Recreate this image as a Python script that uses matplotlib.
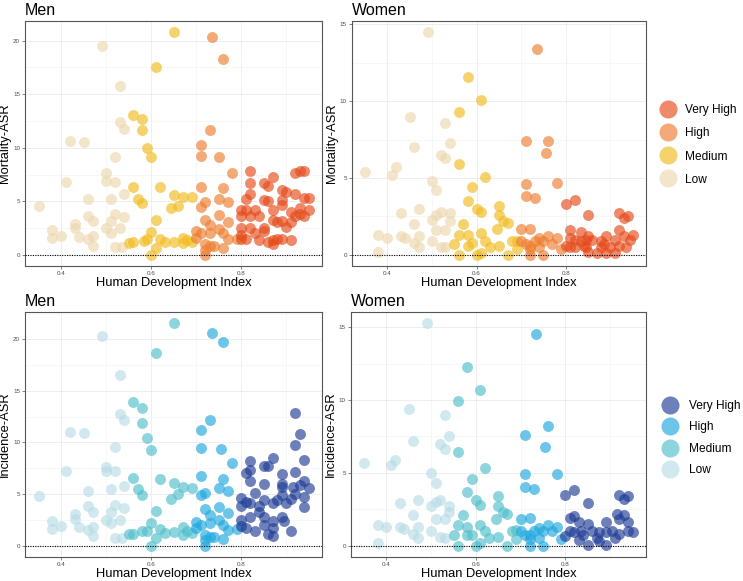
import matplotlib
matplotlib.use("Agg")
import matplotlib.pyplot as plt
from matplotlib.lines import Line2D
from matplotlib.ticker import MultipleLocator
import numpy as np

plt.rcParams['font.family'] = ['Liberation Sans', 'DejaVu Sans']

# HDI categories (cut points of the Human Development Index)
levels = ["Very High", "High", "Medium", "Low"]
cuts = [0.80, 0.70, 0.55]

# ---------------- Men, mortality ----------------
men_mort_hdi = [0.35, 0.38, 0.38, 0.40, 0.41, 0.42, 0.43, 0.43, 0.44, 0.45, 0.46, 0.46, 0.46, 0.47, 0.47, 0.47,
                0.49, 0.50, 0.50, 0.50, 0.51, 0.51, 0.51, 0.52, 0.52, 0.52, 0.52, 0.53, 0.53, 0.53, 0.535, 0.54,
                0.54, 0.54,
                0.55, 0.56, 0.56, 0.56, 0.57, 0.58, 0.58, 0.58, 0.585, 0.59, 0.59, 0.60, 0.60, 0.60, 0.61, 0.61,
                0.61, 0.62, 0.62, 0.63, 0.65, 0.65, 0.645, 0.66, 0.65, 0.67, 0.67, 0.67, 0.68, 0.69, 0.69,
                0.70, 0.71, 0.71, 0.71, 0.71, 0.71, 0.72, 0.72, 0.72, 0.72, 0.73, 0.735, 0.73, 0.73, 0.73, 0.74,
                0.75, 0.75, 0.75, 0.75, 0.76, 0.76, 0.76, 0.76, 0.77, 0.77, 0.77, 0.78, 0.79, 0.70, 0.72,
                0.82, 0.87, 0.92, 0.93, 0.94, 0.82, 0.85, 0.86, 0.89, 0.82, 0.81, 0.85, 0.89, 0.92, 0.94, 0.95,
                0.95, 0.81, 0.80, 0.83, 0.84, 0.80, 0.82, 0.87, 0.89, 0.89, 0.88, 0.91, 0.92, 0.93, 0.94, 0.91,
                0.90, 0.87, 0.85, 0.85, 0.82, 0.80, 0.80, 0.81, 0.83, 0.87, 0.87, 0.86, 0.88, 0.89, 0.91, 0.84,
                0.80, 0.90, 0.86, 0.93]
men_mort_asr = [4.6, 2.3, 1.6, 1.8, 6.8, 10.6, 2.9, 2.5, 1.7, 10.5, 5.2, 3.6, 1.5, 3.2, 1.8, 0.8,
                19.5, 7.6, 6.9, 2.5, 5.2, 3.2, 2.0, 9.1, 6.8, 3.8, 0.7, 15.8, 12.4, 2.5, 0.7, 11.8,
                5.7, 3.5,
                1.1, 13.1, 6.3, 1.2, 5.2, 12.7, 11.7, 4.8, 1.3, 10.0, 1.5, 9.1, 2.1, 0.0, 17.5, 3.3,
                0.6, 6.3, 1.5, 1.2, 20.8, 5.6, 4.4, 4.6, 1.2, 5.4, 1.6, 1.1, 1.4, 5.4, 1.2,
                2.2, 10.3, 9.2, 6.3, 4.5, 2.0, 4.9, 3.3, 1.0, 0.0, 11.7, 20.3, 2.8, 2.0, 0.8, 0.8,
                9.1, 5.2, 3.7, 2.4, 18.3, 6.2, 2.0, 0.6, 4.9, 3.1, 1.5, 7.6, 1.5, 1.6, 0.5,
                7.8, 7.3, 7.6, 7.8, 7.8, 6.7, 6.7, 6.4, 6.1, 5.7, 5.2, 5.1, 5.1, 5.7, 5.3, 5.3,
                4.2, 4.2, 4.2, 4.2, 3.6, 3.6, 3.6, 4.2, 4.7, 3.2, 3.1, 4.0, 3.6, 3.8, 3.6, 3.1,
                2.6, 3.3, 2.5, 2.2, 2.5, 2.5, 1.9, 1.5, 2.0, 1.4, 1.0, 1.2, 1.5, 1.5, 1.4, 1.4,
                1.5, 5.9, 5.0, 4.4]

# ---------------- Women, mortality ----------------
women_mort_hdi = [0.35, 0.38, 0.38, 0.40, 0.41, 0.42, 0.43, 0.43, 0.44, 0.45, 0.46, 0.46, 0.47, 0.47, 0.46, 0.47,
                  0.49, 0.50, 0.50, 0.50, 0.51, 0.51, 0.51, 0.52, 0.52, 0.52, 0.53, 0.53, 0.53, 0.53, 0.54, 0.54,
                  0.54,
                  0.55, 0.56, 0.56, 0.56, 0.56, 0.57, 0.58, 0.58, 0.58, 0.58, 0.59, 0.59, 0.60, 0.60, 0.61, 0.61,
                  0.61, 0.61, 0.62, 0.62, 0.63, 0.645, 0.65, 0.65, 0.65, 0.66, 0.67, 0.67, 0.68, 0.69, 0.69,
                  0.70, 0.71, 0.71, 0.71, 0.72, 0.71, 0.72, 0.72, 0.73, 0.735, 0.73, 0.74, 0.75, 0.755, 0.76, 0.76,
                  0.77, 0.78, 0.78, 0.79, 0.70, 0.72, 0.75, 0.74,
                  0.80, 0.82, 0.85, 0.92, 0.93, 0.94, 0.81, 0.835, 0.81, 0.82, 0.835, 0.85, 0.86, 0.88, 0.89, 0.91,
                  0.92, 0.93, 0.945, 0.95, 0.80, 0.82, 0.845, 0.85, 0.88, 0.89, 0.90, 0.92, 0.935, 0.91, 0.87,
                  0.845, 0.885, 0.81, 0.84]
women_mort_asr = [5.4, 1.3, 0.2, 1.1, 5.2, 5.7, 2.7, 1.2, 1.1, 9.0, 7.0, 2.0, 3.0, 1.2, 0.8, 0.5,
                  14.5, 4.8, 2.3, 0.9, 4.2, 2.6, 1.6, 6.5, 2.8, 0.5, 8.6, 6.3, 1.6, 0.5, 7.3, 2.7,
                  2.2,
                  0.7, 9.3, 5.9, 1.3, 0.0, 2.0, 11.6, 3.5, 1.3, 0.6, 4.4, 0.8, 3.0, 0.0, 10.1, 2.8,
                  1.4, 0.15, 5.1, 0.9, 0.5, 1.7, 3.2, 2.6, 0.6, 2.2, 2.1, 0.0, 0.9, 0.9, 0.4,
                  1.7, 7.4, 4.6, 3.8, 1.7, 0.7, 0.4, 0.0, 3.7, 13.4, 0.9, 0.5, 0.0, 6.6, 7.4, 1.2,
                  0.7, 4.7, 1.1, 0.4, 0.9, 0.6, 0.9, 1.1,
                  3.3, 3.6, 2.6, 2.7, 2.4, 2.5, 1.6, 1.5, 1.1, 1.0, 0.9, 1.2, 1.0, 0.9, 1.2, 1.0,
                  1.6, 1.2, 1.0, 1.3, 0.6, 0.5, 0.5, 0.2, 0.5, 0.1, 0.5, 0.6, 0.5, 0.1, 0.1,
                  1.0, 0.7, 0.5, 0.6]

# ---------------- Men, incidence ----------------
men_inc_hdi = [0.35, 0.38, 0.38, 0.40, 0.41, 0.42, 0.43, 0.43, 0.44, 0.45, 0.46, 0.46, 0.46, 0.47, 0.47, 0.47,
               0.49, 0.50, 0.50, 0.50, 0.51, 0.51, 0.51, 0.52, 0.52, 0.52, 0.52, 0.53, 0.53, 0.53, 0.535, 0.54,
               0.54, 0.54,
               0.55, 0.56, 0.56, 0.56, 0.57, 0.58, 0.58, 0.58, 0.58, 0.59, 0.59, 0.60, 0.60, 0.60, 0.61, 0.61,
               0.61, 0.62, 0.62, 0.63, 0.65, 0.65, 0.645, 0.66, 0.65, 0.67, 0.67, 0.67, 0.68, 0.69, 0.69,
               0.70, 0.71, 0.71, 0.71, 0.71, 0.71, 0.72, 0.72, 0.72, 0.72, 0.73, 0.735, 0.73, 0.73, 0.73, 0.74,
               0.755, 0.75, 0.75, 0.75, 0.76, 0.76, 0.76, 0.76, 0.77, 0.77, 0.77, 0.78, 0.79, 0.70, 0.72,
               0.92, 0.93, 0.92, 0.94, 0.87, 0.82, 0.85, 0.86, 0.81, 0.82, 0.82, 0.85, 0.89, 0.89, 0.92, 0.94,
               0.95, 0.89, 0.915, 0.93, 0.94, 0.92, 0.91, 0.94, 0.89, 0.88, 0.90, 0.87, 0.85, 0.83, 0.80, 0.80,
               0.81, 0.82, 0.84, 0.84, 0.85, 0.82, 0.80, 0.80, 0.81, 0.83, 0.87, 0.86, 0.87, 0.89, 0.895, 0.91,
               0.85, 0.87]
men_inc_asr = [4.85, 2.4, 1.6, 1.9, 7.2, 11.0, 3.1, 2.6, 1.8, 10.9, 5.3, 3.8, 1.5, 3.3, 1.8, 0.9,
               20.3, 7.6, 7.2, 2.5, 5.5, 3.3, 2.2, 9.6, 7.2, 3.9, 0.7, 16.5, 12.8, 2.5, 0.7, 12.2,
               5.8, 3.6,
               1.1, 13.9, 6.6, 1.1, 5.5, 13.3, 11.9, 4.9, 1.4, 10.4, 1.4, 9.3, 2.2, 0.0, 18.7, 3.4,
               0.7, 6.5, 1.6, 1.2, 21.6, 6.1, 4.5, 5.0, 1.3, 5.7, 1.8, 1.0, 1.4, 5.6, 1.2,
               2.3, 11.2, 9.5, 6.7, 4.9, 2.0, 5.1, 3.5, 1.0, 0.0, 12.2, 20.6, 3.0, 2.2, 0.8, 0.8,
               9.4, 5.6, 3.7, 2.5, 19.7, 6.5, 2.0, 0.6, 5.3, 3.2, 1.5, 8.0, 1.6, 1.7, 0.5,
               12.9, 10.8, 9.8, 8.3, 8.5, 8.2, 7.7, 7.7, 7.0, 7.3, 6.3, 6.0, 6.9, 6.0, 7.1, 6.3,
               5.6, 5.7, 5.7, 5.9, 4.7, 5.0, 4.5, 3.7, 4.9, 4.4, 4.1, 4.1, 4.4, 5.1, 4.6, 3.8,
               4.2, 4.1, 3.8, 3.3, 2.8, 2.8, 2.5, 1.9, 1.7, 1.4, 1.7, 1.1, 0.9, 2.8, 2.4, 1.4,
               2.0, 2.4]

# ---------------- Women, incidence ----------------
women_inc_hdi = [0.35, 0.38, 0.38, 0.40, 0.41, 0.42, 0.43, 0.43, 0.44, 0.45, 0.46, 0.46, 0.47, 0.47, 0.46, 0.47,
                 0.49, 0.50, 0.50, 0.50, 0.51, 0.51, 0.51, 0.52, 0.52, 0.52, 0.53, 0.53, 0.53, 0.53, 0.54, 0.54,
                 0.54,
                 0.55, 0.56, 0.56, 0.56, 0.56, 0.57, 0.58, 0.58, 0.58, 0.58, 0.59, 0.59, 0.60, 0.60, 0.61, 0.61,
                 0.61, 0.61, 0.62, 0.62, 0.63, 0.645, 0.65, 0.65, 0.65, 0.66, 0.67, 0.67, 0.68, 0.69, 0.69,
                 0.70, 0.71, 0.71, 0.71, 0.72, 0.71, 0.72, 0.72, 0.73, 0.735, 0.73, 0.74, 0.75, 0.755, 0.76, 0.76,
                 0.77, 0.78, 0.78, 0.79, 0.70, 0.72, 0.75, 0.74,
                 0.80, 0.82, 0.85, 0.92, 0.93, 0.94, 0.81, 0.82, 0.83, 0.85, 0.89, 0.915, 0.93, 0.92, 0.94, 0.95,
                 0.94, 0.81, 0.82, 0.835, 0.84, 0.86, 0.875, 0.89, 0.905, 0.92, 0.80, 0.83, 0.85, 0.87, 0.89,
                 0.875, 0.91]
women_inc_asr = [5.7, 1.4, 0.2, 1.25, 5.5, 5.9, 2.9, 1.25, 1.15, 9.4, 7.2, 2.1, 3.1, 1.25, 0.8, 0.5,
                 15.3, 5.0, 2.7, 1.0, 4.3, 3.0, 1.8, 7.0, 3.1, 0.6, 9.0, 6.6, 1.8, 0.5, 7.5, 2.7,
                 2.3,
                 0.75, 9.9, 6.4, 1.4, 0.0, 2.1, 12.3, 3.65, 1.3, 0.7, 4.6, 0.75, 3.1, 0.0, 10.7, 2.8,
                 1.4, 0.2, 5.3, 1.0, 0.5, 1.8, 3.4, 2.7, 0.6, 2.3, 2.2, 0.0, 1.0, 1.1, 0.45,
                 1.8, 7.6, 4.9, 4.0, 1.9, 0.75, 0.45, 0.0, 3.9, 14.5, 1.0, 0.5, 0.0, 6.8, 8.2, 1.4,
                 1.0, 4.9, 1.3, 0.45, 1.0, 0.7, 1.0, 1.2,
                 3.5, 3.85, 2.9, 3.5, 3.2, 3.4, 1.9, 2.0, 1.6, 1.5, 1.6, 2.2, 2.1, 1.8, 1.6, 0.9,
                 1.0, 0.97, 0.9, 1.0, 0.7, 1.0, 0.9, 0.9, 1.0, 0.8, 0.66, 0.4, 0.07, 0.5, 0.07,
                 0.3, 0.5]

orange_cols = {"Very High": "#E64A19", "High": "#EE7D2E", "Medium": "#F2BB1E", "Low": "#EDD7AE"}
blue_cols = {"Very High": "#1F3C96", "High": "#1FA8DE", "Medium": "#4FBFCC", "Low": "#B7DCE6"}
ALPHA = 0.65


def hdi_level(h):
    if h >= cuts[0]:
        return "Very High"
    if h >= cuts[1]:
        return "High"
    if h >= cuts[2]:
        return "Medium"
    return "Low"


def draw_panel(ax, hdi, asr, cols, title, ylabel):
    hdi = np.array(hdi)
    asr = np.array(asr)
    grp = np.array([hdi_level(h) for h in hdi])
    for lev in ["Low", "Medium", "High", "Very High"]:
        m = grp == lev
        ax.scatter(hdi[m], asr[m], s=62, color=cols[lev], alpha=ALPHA, linewidths=0, zorder=2)
    ax.axhline(0, color="black", linestyle=(0, (1, 1.2)), lw=0.8, zorder=3)
    ax.margins(0.05)
    ax.xaxis.set_major_locator(MultipleLocator(0.2))
    ax.xaxis.set_minor_locator(MultipleLocator(0.1))
    ax.yaxis.set_major_locator(MultipleLocator(5))
    ax.yaxis.set_minor_locator(MultipleLocator(2.5))
    ax.grid(which="major", color="#EBEBEB", lw=0.6, zorder=0)
    ax.grid(which="minor", color="#F2F2F2", lw=0.4, zorder=0)
    ax.set_axisbelow(True)
    ax.tick_params(which="major", labelsize=4.5, labelcolor="#4D4D4D", color="#4D4D4D",
                   length=2, width=0.5, pad=1.5)
    ax.tick_params(which="minor", length=0)
    for sp in ax.spines.values():
        sp.set_color("#555555")
        sp.set_linewidth(0.8)
    ax.set_xlabel("Human Development Index", fontsize=9.3, labelpad=1)
    ax.set_ylabel(ylabel, fontsize=9.3, labelpad=1.5)
    ax.annotate(title, xy=(0, 1), xycoords="axes fraction", xytext=(0, 4.2),
                textcoords="offset points", fontsize=11.5, ha="left", va="baseline")


fig = plt.figure(figsize=(7.43, 5.81), dpi=100)
W, H = 743, 581
def box(l, t, r, b):
    return [l / W, 1 - b / H, (r - l) / W, (b - t) / H]

ax1 = fig.add_axes(box(25, 21, 322, 266))
ax2 = fig.add_axes(box(351.7, 21, 646, 266))
ax3 = fig.add_axes(box(25, 311.7, 322, 556.7))
ax4 = fig.add_axes(box(350.7, 311.7, 646, 556.7))

draw_panel(ax1, men_mort_hdi, men_mort_asr, orange_cols, "Men", "Mortality-ASR")
draw_panel(ax2, women_mort_hdi, women_mort_asr, orange_cols, "Women", "Mortality-ASR")
draw_panel(ax3, men_inc_hdi, men_inc_asr, blue_cols, "Men", "Incidence-ASR")
draw_panel(ax4, women_inc_hdi, women_inc_asr, blue_cols, "Women", "Incidence-ASR")


def make_legend(cols, anchor, spacing, textpad):
    handles = [Line2D([], [], marker="o", linestyle="", markersize=13, markerfacecolor=cols[l],
                      markeredgewidth=0, alpha=ALPHA) for l in levels]
    fig.legend(handles, levels, loc="center left", bbox_to_anchor=anchor, frameon=False,
               fontsize=8.6, handlelength=1.5, handletextpad=textpad, labelspacing=spacing,
               borderpad=0, borderaxespad=0)


make_legend(orange_cols, (659 / W, 1 - 145 / H), 0.93, 0.67)
make_legend(blue_cols, (661 / W, 1 - 438 / H), 0.79, 0.85)

fig.savefig("out.png", dpi=100)
